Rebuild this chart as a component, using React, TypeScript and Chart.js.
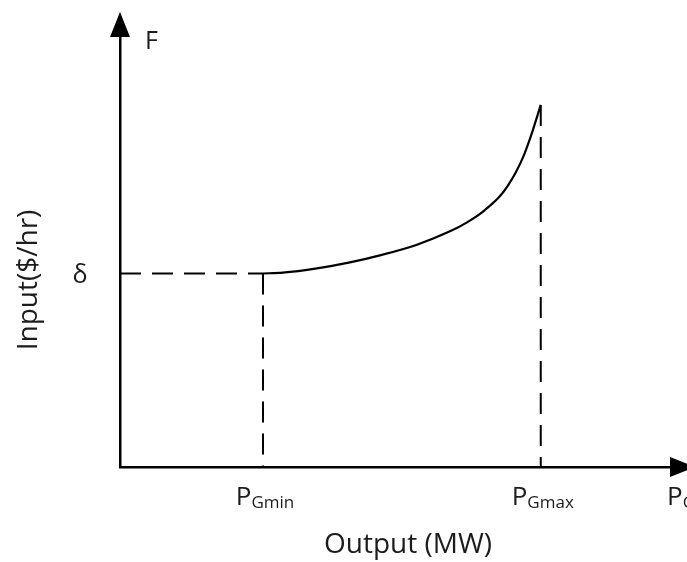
import React, { useEffect, useRef } from "react";
import { Chart, registerables } from "chart.js";

Chart.register(...registerables);

// Fuel cost curve: generator output (MW) vs. input cost ($/hr)
const outputMW = [26.0, 29.6, 35.8, 41.8, 47.8, 54.0, 60.0, 63.1, 66.0, 69.1, 70.5, 72.0, 73.5, 74.9, 76.5];
const inputCost = [45.0, 45.2, 46.2, 47.6, 49.4, 51.7, 54.8, 56.9, 59.4, 63.0, 65.4, 68.6, 72.7, 77.7, 84.2];

// Operating limits and cost at minimum output
const pGmin = 26.0;
const pGmax = 76.5;
const delta = 45.0;

// Axis extents
const xMax = 100;
const yMax = 100;

// Output-axis labels: main letter + subscript
const xTickValues = [pGmin, pGmax];
const xTickMain = ["P", "P"];
const xTickSub = ["Gmin", "Gmax"];
const xEndMain = "P";
const xEndSub = "G";

const yAxisName = "F";
const deltaLabel = "δ";
const xTitle = "Output (MW)";
const yTitle = "Input($/hr)";

const FONT = '"Open Sans", "Noto Sans", sans-serif';
const INK = "#1c1c1c";

const annotate = {
  id: "annotate",
  afterDraw(chart: any) {
    const { ctx, chartArea } = chart;
    const xs = chart.scales.x;
    const ys = chart.scales.y;
    const left = xs.getPixelForValue(0);
    const bottom = ys.getPixelForValue(0);
    const top = chartArea.top;
    const right = chartArea.right;

    ctx.save();
    ctx.fillStyle = "#000";
    // arrow heads on both axes
    ctx.beginPath();
    ctx.moveTo(left, top - 25);
    ctx.lineTo(left - 10, top);
    ctx.lineTo(left + 10, top);
    ctx.closePath();
    ctx.fill();
    ctx.beginPath();
    ctx.moveTo(right + 25, bottom);
    ctx.lineTo(right, bottom - 10);
    ctx.lineTo(right, bottom + 10);
    ctx.closePath();
    ctx.fill();

    ctx.fillStyle = INK;
    ctx.textBaseline = "alphabetic";

    // axis name at the top of the vertical axis
    ctx.font = `25px ${FONT}`;
    ctx.textAlign = "left";
    ctx.fillText(yAxisName, left + 25, top + 12);

    // cost at minimum output
    ctx.textAlign = "center";
    ctx.fillText(deltaLabel, left - 40, ys.getPixelForValue(delta) + 9);

    // subscripted output labels
    const drawSub = (main: string, sub: string, x: number, align: string) => {
      ctx.font = `26px ${FONT}`;
      const mw = ctx.measureText(main).width;
      ctx.font = `17px ${FONT}`;
      const sw = ctx.measureText(sub).width;
      const total = mw + sw;
      const x0 = align === "center" ? x - total / 2 : x;
      ctx.textAlign = "left";
      ctx.font = `26px ${FONT}`;
      ctx.fillText(main, x0, bottom + 38);
      ctx.font = `17px ${FONT}`;
      ctx.fillText(sub, x0 + mw, bottom + 41);
    };
    xTickValues.forEach((v, i) => {
      drawSub(xTickMain[i], xTickSub[i], xs.getPixelForValue(v) + 2, "center");
    });
    drawSub(xEndMain, xEndSub, xs.getPixelForValue(xMax) - 3, "left");

    // axis titles
    ctx.font = `28px ${FONT}`;
    ctx.textAlign = "center";
    ctx.fillText(xTitle, 408, bottom + 86);

    ctx.save();
    ctx.translate(29, 280);
    ctx.rotate(-Math.PI / 2);
    ctx.textBaseline = "middle";
    ctx.fillText(yTitle, 0, 0);
    ctx.restore();

    ctx.restore();
  },
};

export default function App() {
  const ref = useRef<HTMLCanvasElement | null>(null);

  useEffect(() => {
    if (!ref.current) return;
    const curve = outputMW.map((x, i) => ({ x, y: inputCost[i] }));
    const dashed = { borderColor: "#000", borderWidth: 2, borderDash: [21, 11], pointRadius: 0, tension: 0, fill: false };
    const chart = new Chart(ref.current, {
      type: "line",
      data: {
        datasets: [
          {
            data: curve,
            borderColor: "#000",
            borderWidth: 2.2,
            pointRadius: 0,
            fill: false,
            cubicInterpolationMode: "monotone",
          } as any,
          { ...dashed, data: [{ x: 0, y: delta }, { x: pGmin, y: delta }] },
          { ...dashed, data: [{ x: pGmin, y: delta }, { x: pGmin, y: 0 }] },
          { ...dashed, data: [{ x: pGmax, y: inputCost[inputCost.length - 1] }, { x: pGmax, y: 0 }] },
        ],
      },
      options: {
        responsive: false,
        animation: false,
        events: [],
        layout: { padding: { left: 120, top: 37, right: 17, bottom: 95 } },
        plugins: { legend: { display: false }, tooltip: { enabled: false } },
        scales: {
          x: {
            type: "linear",
            min: 0,
            max: xMax,
            grid: { display: false, drawTicks: false },
            ticks: { display: false },
            border: { display: true, color: "#000", width: 2.5 },
            afterFit: (s: any) => { s.height = 0; },
          },
          y: {
            type: "linear",
            min: 0,
            max: yMax,
            grid: { display: false, drawTicks: false },
            ticks: { display: false },
            border: { display: true, color: "#000", width: 2.5 },
            afterFit: (s: any) => { s.width = 0; },
          },
        },
      } as any,
      plugins: [annotate],
    });
    return () => chart.destroy();
  }, []);

  return (
    <div style={{ position: "absolute", left: 0, top: 0, width: 687, height: 562, background: "#fff" }}>
      <canvas ref={ref} width={687} height={562} />
    </div>
  );
}
